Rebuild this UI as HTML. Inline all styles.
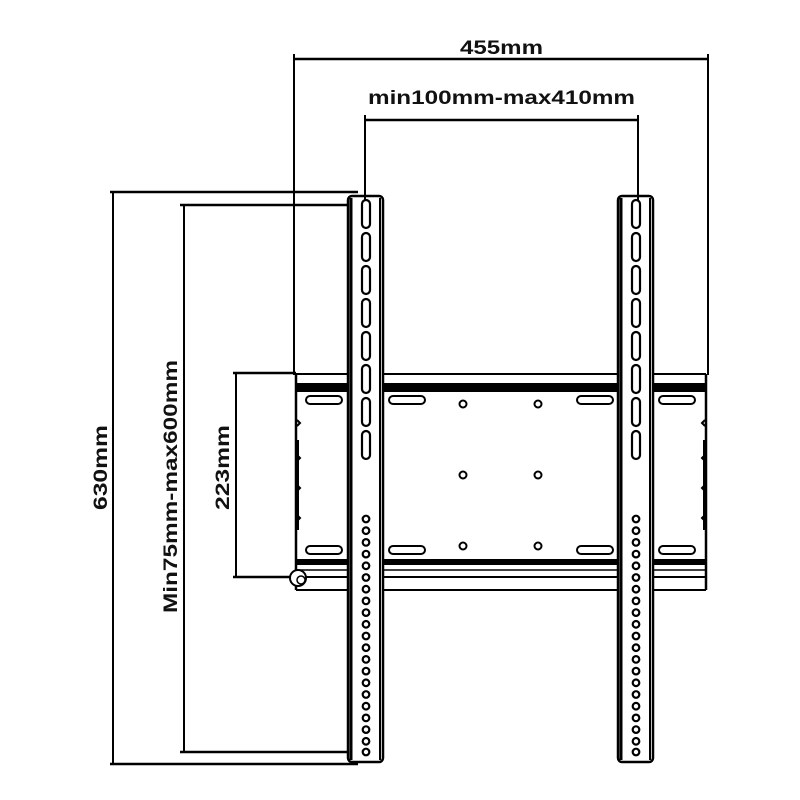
<!DOCTYPE html>
<html><head><style>html,body{margin:0;padding:0;background:#fff}svg{display:block}</style></head>
<body>
<svg width="800" height="800" viewBox="0 0 800 800" xmlns="http://www.w3.org/2000/svg">
<g stroke="#000" fill="none" stroke-linecap="butt">
<!-- dimension lines -->
<line x1="294" y1="59" x2="708" y2="59" stroke-width="2.5"/>
<line x1="294" y1="54" x2="294" y2="375" stroke-width="2"/>
<line x1="708" y1="54" x2="708" y2="375" stroke-width="2"/>
<line x1="365" y1="120" x2="638" y2="120" stroke-width="2.5"/>
<line x1="365" y1="115" x2="365" y2="200" stroke-width="2"/>
<line x1="638" y1="115" x2="638" y2="200" stroke-width="2"/>
<line x1="110" y1="192" x2="358" y2="192" stroke-width="2.5"/>
<line x1="110" y1="764" x2="358" y2="764" stroke-width="2.5"/>
<line x1="113" y1="192" x2="113" y2="764" stroke-width="2"/>
<line x1="180" y1="205" x2="352" y2="205" stroke-width="2.5"/>
<line x1="180" y1="752" x2="365" y2="752" stroke-width="2.5"/>
<line x1="184" y1="205" x2="184" y2="752" stroke-width="2"/>
<line x1="233" y1="373" x2="296" y2="373" stroke-width="2.5"/>
<line x1="233" y1="577" x2="296" y2="577" stroke-width="2.5"/>
<line x1="236" y1="373" x2="236" y2="577" stroke-width="2"/>

<!-- bracket plate -->
<line x1="296" y1="374" x2="706" y2="374" stroke-width="2"/>
<rect x="296" y="383" width="410" height="9" fill="#000" stroke="none"/>
<rect x="296" y="559" width="410" height="6" fill="#000" stroke="none"/>
<line x1="296" y1="570" x2="706" y2="570" stroke-width="1.5"/>
<line x1="296" y1="577" x2="706" y2="577" stroke-width="2"/>
<line x1="296" y1="590" x2="706" y2="590" stroke-width="2"/>
<line x1="296" y1="374" x2="296" y2="590" stroke-width="2.5"/>
<line x1="706" y1="374" x2="706" y2="590" stroke-width="2.5"/>
<path d="M297 420 l3 3 l-3 3 M297 455 l3 3 l-3 3 M297 485 l3 3 l-3 3 M297 515 l3 3 l-3 3" stroke-width="2"/>
<path d="M705 420 l-3 3 l3 3 M705 455 l-3 3 l3 3 M705 485 l-3 3 l3 3 M705 515 l-3 3 l3 3" stroke-width="2"/>
<line x1="297" y1="440" x2="297" y2="530" stroke-width="4"/>
<line x1="705" y1="440" x2="705" y2="530" stroke-width="4"/>
<circle cx="298" cy="578" r="8" stroke-width="2" fill="#fff"/>
<circle cx="301" cy="580" r="4" stroke-width="1.5"/>
<g stroke-width="2">
<rect x="306" y="396" width="36" height="8" rx="4"/>
<rect x="389" y="396" width="36" height="8" rx="4"/>
<rect x="577" y="396" width="36" height="8" rx="4"/>
<rect x="659" y="396" width="36" height="8" rx="4"/>
<rect x="306" y="546" width="36" height="8" rx="4"/>
<rect x="389" y="546" width="36" height="8" rx="4"/>
<rect x="577" y="546" width="36" height="8" rx="4"/>
<rect x="659" y="546" width="36" height="8" rx="4"/>
<circle cx="463" cy="404" r="3.5"/><circle cx="538" cy="404" r="3.5"/>
<circle cx="463" cy="475" r="3.5"/><circle cx="538" cy="475" r="3.5"/>
<circle cx="463" cy="546" r="3.5"/><circle cx="538" cy="546" r="3.5"/>
</g>

<!-- left rail -->
<rect x="348" y="196" width="35" height="566" rx="4" fill="#fff" stroke-width="2.5"/>
<line x1="351" y1="198" x2="351" y2="760" stroke-width="3"/>
<line x1="380" y1="198" x2="380" y2="760" stroke-width="2"/>
<!-- right rail -->
<rect x="618" y="196" width="35" height="566" rx="4" fill="#fff" stroke-width="2.5"/>
<line x1="621" y1="198" x2="621" y2="760" stroke-width="3"/>
<line x1="650" y1="198" x2="650" y2="760" stroke-width="2"/>
<line x1="365" y1="190" x2="365" y2="200" stroke-width="2"/>
<line x1="638" y1="190" x2="638" y2="200" stroke-width="2"/>

<g stroke-width="2.2" id="slots">
<rect x="362" y="200" width="8" height="28" rx="4"/>
<rect x="362" y="233" width="8" height="28" rx="4"/>
<rect x="362" y="266" width="8" height="28" rx="4"/>
<rect x="362" y="299" width="8" height="28" rx="4"/>
<rect x="362" y="332" width="8" height="28" rx="4"/>
<rect x="362" y="365" width="8" height="28" rx="4"/>
<rect x="362" y="398" width="8" height="28" rx="4"/>
<rect x="362" y="431" width="8" height="28" rx="4"/>
<rect x="632" y="200" width="8" height="28" rx="4"/>
<rect x="632" y="233" width="8" height="28" rx="4"/>
<rect x="632" y="266" width="8" height="28" rx="4"/>
<rect x="632" y="299" width="8" height="28" rx="4"/>
<rect x="632" y="332" width="8" height="28" rx="4"/>
<rect x="632" y="365" width="8" height="28" rx="4"/>
<rect x="632" y="398" width="8" height="28" rx="4"/>
<rect x="632" y="431" width="8" height="28" rx="4"/>
</g>
<g stroke-width="2.2">
<circle cx="366" cy="519" r="3.3"/><circle cx="366" cy="530.7" r="3.3"/><circle cx="366" cy="542.4" r="3.3"/><circle cx="366" cy="554.1" r="3.3"/><circle cx="366" cy="565.8" r="3.3"/><circle cx="366" cy="577.5" r="3.3"/><circle cx="366" cy="589.2" r="3.3"/><circle cx="366" cy="600.9" r="3.3"/><circle cx="366" cy="612.6" r="3.3"/><circle cx="366" cy="624.3" r="3.3"/><circle cx="366" cy="636" r="3.3"/><circle cx="366" cy="647.7" r="3.3"/><circle cx="366" cy="659.4" r="3.3"/><circle cx="366" cy="671.1" r="3.3"/><circle cx="366" cy="682.8" r="3.3"/><circle cx="366" cy="694.5" r="3.3"/><circle cx="366" cy="706.2" r="3.3"/><circle cx="366" cy="717.9" r="3.3"/><circle cx="366" cy="729.6" r="3.3"/><circle cx="366" cy="741.3" r="3.3"/><circle cx="366" cy="752" r="3.3"/>
<circle cx="636" cy="519" r="3.3"/><circle cx="636" cy="530.7" r="3.3"/><circle cx="636" cy="542.4" r="3.3"/><circle cx="636" cy="554.1" r="3.3"/><circle cx="636" cy="565.8" r="3.3"/><circle cx="636" cy="577.5" r="3.3"/><circle cx="636" cy="589.2" r="3.3"/><circle cx="636" cy="600.9" r="3.3"/><circle cx="636" cy="612.6" r="3.3"/><circle cx="636" cy="624.3" r="3.3"/><circle cx="636" cy="636" r="3.3"/><circle cx="636" cy="647.7" r="3.3"/><circle cx="636" cy="659.4" r="3.3"/><circle cx="636" cy="671.1" r="3.3"/><circle cx="636" cy="682.8" r="3.3"/><circle cx="636" cy="694.5" r="3.3"/><circle cx="636" cy="706.2" r="3.3"/><circle cx="636" cy="717.9" r="3.3"/><circle cx="636" cy="729.6" r="3.3"/><circle cx="636" cy="741.3" r="3.3"/><circle cx="636" cy="752" r="3.3"/>
</g>
</g>
<g font-family="Liberation Sans, Arial, sans-serif" font-weight="bold" font-size="19" fill="#111">
<text x="460" y="54" textLength="83" lengthAdjust="spacingAndGlyphs">455mm</text>
<text x="368" y="104" textLength="267" lengthAdjust="spacingAndGlyphs">min100mm-max410mm</text>
<text transform="translate(107,510) rotate(-90)" textLength="85" lengthAdjust="spacingAndGlyphs">630mm</text>
<text transform="translate(177,613) rotate(-90)" textLength="253" lengthAdjust="spacingAndGlyphs">Min75mm-max600mm</text>
<text transform="translate(229,510) rotate(-90)" textLength="85" lengthAdjust="spacingAndGlyphs">223mm</text>
</g>
</svg>
</body></html>
